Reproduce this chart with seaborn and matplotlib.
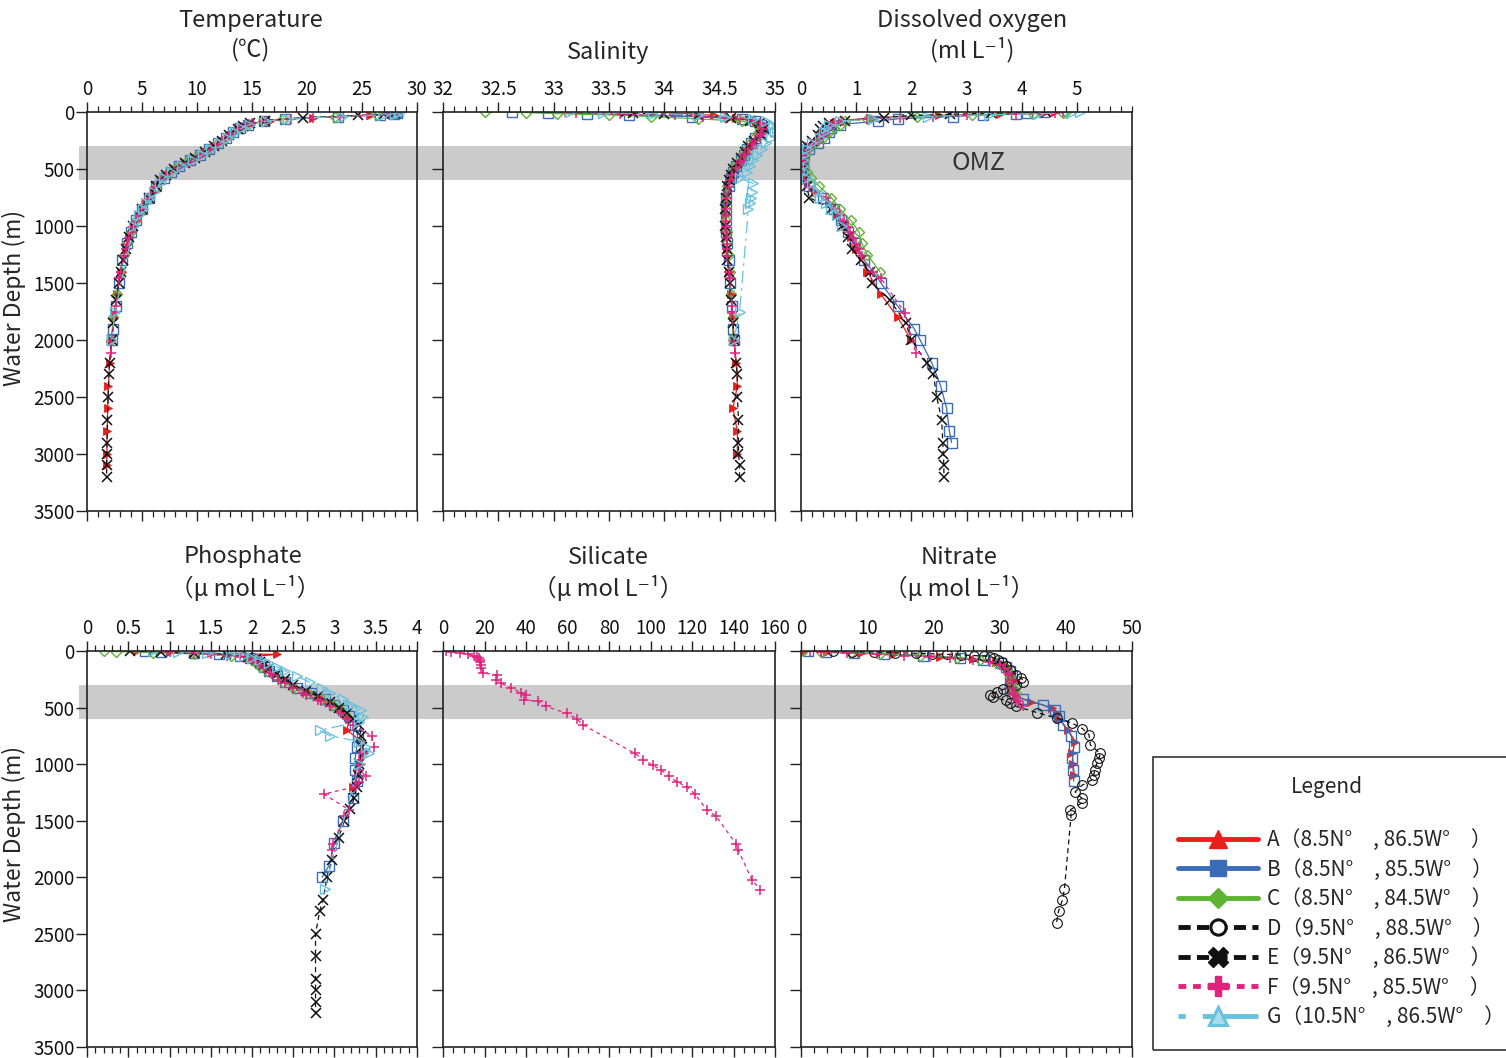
import numpy as np
import pandas as pd
import matplotlib
matplotlib.use("Agg")
import matplotlib.pyplot as plt
from matplotlib.lines import Line2D
from matplotlib.patches import Rectangle
from matplotlib.ticker import MultipleLocator, NullLocator
import seaborn as sns

nan = np.nan

# ---------------- data ----------------
stations = ["A", "B", "C", "D", "E", "F", "G"]
station_labels = ["A（8.5N°　, 86.5W°　）", "B（8.5N°　, 85.5W°　）", "C（8.5N°　, 84.5W°　）",
                  "D（9.5N°　, 88.5W°　）", "E（9.5N°　, 86.5W°　）", "F（9.5N°　, 85.5W°　）",
                  "G（10.5N°　, 86.5W°　）"]

dep_A = [0, 10, 20, 30, 50, 75, 100, 125, 150, 200, 250, 300, 350, 400, 450, 500, 550, 600, 700, 800,
         900, 1000, 1100, 1200, 1400, 1600, 1800, 2000, 2200, 2400, 2600, 2800, 3000, 3100]
temp_A = [28.4, 28.3, 27.6, 25.8, 20.5, 16.6, 15.0, 14.3, 13.8, 13.0, 12.4, 11.6, 10.8, 10.0, 9.0, 8.0, 7.3, 6.7, 6.0, 5.3,
          4.7, 4.2, 3.8, 3.5, 3.05, 2.75, 2.45, 2.25, 2.05, 1.95, 1.88, 1.83, 1.80, 1.80]
sal_A = [33.9, 34.1, 34.3, 34.45, 34.65, 34.78, 34.85, 34.88, 34.88, 34.85, 34.8, 34.77, 34.74, 34.71, 34.68, 34.64, 34.61, 34.59, 34.57, 34.56,
         34.56, 34.56, 34.57, 34.57, 34.58, 34.6, 34.62, 34.63, 34.65, 34.66, 34.62, 34.66, 34.66, nan]
oxy_A = [4.6, 4.4, 3.6, 2.5, 1.3, 0.75, 0.6, 0.55, 0.5, 0.42, 0.3, 0.15, 0.08, 0.05, 0.03, 0.03, 0.04, 0.08, 0.25, 0.5,
         0.65, 0.8, 0.9, 1.0, 1.2, 1.45, 1.75, 2.0, nan, nan, nan, nan, nan, nan]
po4_A = [0.6, 1.0, 1.5, 2.3, 2.0, 2.05, 2.1, 2.15, 2.2, 2.28, 2.4, 2.5, 2.65, 2.8, 2.95, 3.05, 3.12, 3.18, 3.15, 3.33,
         3.35, 3.32, 3.28, 3.22, nan, nan, nan, nan, nan, nan, nan, nan, nan, nan]
no3_A = [0.5, 4.0, 9.0, 14.0, 21.0, 26.0, 29.5, 30.8, 31.3, 31.6, 31.5, 31.4, 31.8, 32.5, 34.8, 37.9, 38.6, 39.0, 40.4, 41.4,
         41.0, 41.1, 41.3, nan, nan, nan, nan, nan, nan, nan, nan, nan, nan, nan]

dep_B = [0, 5, 15, 25, 40, 60, 80, 110, 140, 175, 225, 275, 325, 375, 425, 475, 525, 575, 650, 750,
         850, 950, 1050, 1150, 1300, 1500, 1700, 1900, 2000, 2200, 2400, 2600, 2800, 2900]
temp_B = [28.2, 28.2, 27.9, 26.6, 22.8, 18.0, 16.1, 14.6, 13.9, 13.3, 12.6, 11.9, 11.1, 10.3, 9.4, 8.4, 7.6, 7.0, 6.3, 5.6,
          5.0, 4.45, 4.0, 3.65, 3.2, 2.9, 2.6, 2.35, 2.25, nan, nan, nan, nan, nan]
sal_B = [32.62, 32.95, 33.3, 33.68, 34.25, 34.7, 34.82, 34.87, 34.89, 34.87, 34.82, 34.78, 34.75, 34.72, 34.69, 34.65, 34.62, 34.6, 34.58, 34.56,
         34.56, 34.56, 34.56, 34.57, 34.58, 34.59, 34.61, 34.62, 34.63, nan, nan, nan, nan, nan]
oxy_B = [4.4, 4.1, 3.9, 3.3, 2.75, 1.75, 1.4, 0.7, 0.55, 0.5, 0.42, 0.3, 0.15, 0.06, 0.04, 0.03, 0.04, 0.06, 0.15, 0.4,
         0.6, 0.72, 0.85, 0.98, 1.15, 1.45, 1.75, 2.05, 2.16, 2.37, 2.53, 2.64, 2.69, 2.73]
po4_B = [0.7, 0.9, 1.3, 1.6, 1.85, 1.98, 2.05, 2.1, 2.15, 2.2, 2.3, 2.4, 2.55, 2.72, 2.88, 3.0, 3.1, 3.18, 3.25, 3.28,
         3.27, 3.25, 3.25, 3.27, 3.22, 3.1, 3.0, 2.93, 2.85, nan, nan, nan, nan, nan]
no3_B = [1.0, 3.8, 8.0, 12.5, 18.5, 24.0, 27.5, 30.2, 31.0, 31.5, 31.8, 31.5, 31.6, 31.9, 33.5, 36.5, 38.4, 38.9, 39.6, 40.8,
         41.2, 41.0, 41.1, 41.2, nan, nan, nan, nan, nan, nan, nan, nan, nan, nan]

dep_C = [0, 5, 15, 25, 40, 60, 80, 110, 140, 175, 225, 275, 325, 375, 425, 475, 525, 575, 650, 750,
         850, 950, 1050, 1150, 1250, 1400, 1600, 1800, 2000]
temp_C = [28.1, 28.1, 27.7, 26.4, 22.5, 17.8, 16.0, 14.6, 13.9, 13.3, 12.6, 11.9, 11.1, 10.2, 9.3, 8.3, 7.5, 6.9, 6.3, 5.6,
          5.0, 4.45, 4.0, 3.65, 3.4, 3.05, 2.7, 2.4, 2.2]
sal_C = [32.38, 32.75, 33.03, 33.5, 33.88, 34.3, 34.7, 34.84, 34.87, 34.86, 34.81, 34.77, 34.74, 34.71, 34.68, 34.64, 34.61, 34.59, 34.57, 34.56,
         34.56, 34.56, 34.57, 34.57, 34.58, 34.59, 34.6, 34.62, 34.62]
oxy_C = [4.8, 4.75, 4.2, 3.1, 2.1, 1.2, 0.8, 0.7, 0.6, 0.5, 0.4, 0.25, 0.12, 0.08, 0.06, 0.06, 0.1, 0.18, 0.33, 0.55,
         0.7, 0.9, 1.05, 1.1, 1.2, 1.43, nan, nan, nan]
po4_C = [0.2, 0.35, 0.8, 1.3, 1.75, 1.95, 2.0, 2.05, 2.1, 2.18, 2.28, 2.38, 2.5, 2.68, 2.85, 2.98, 3.08, 3.15, nan, nan,
         nan, nan, nan, nan, nan, nan, nan, nan, nan]
no3_C = [0.3, 3.0, 7.5, 12.0, 18.0, 23.5, 27.0, 29.5, 30.8, 31.2, 31.6, 31.8, 32.0, 32.5, nan, nan, nan, nan, nan, nan,
         nan, nan, nan, nan, nan, nan, nan, nan, nan]

dep_D = [0, 5, 10, 15, 20, 25, 30, 35, 40, 45, 50, 60, 80, 100, 130, 170, 210, 240, 270, 300,
         340, 360, 385, 410, 435, 460, 490, 545, 595, 640, 685, 740, 830, 905, 950, 990, 1050, 1100, 1140, 1185,
         1245, 1300, 1345, 1405, 1450, 2100, 2200, 2300, 2400]
no3_D = [4.9, 7.7, 11.0, 14.2, 17.3, 19.8, 22.1, 24.1, 26.1, 27.6, 28.6, 29.1, 29.8, 30.3, 31.0, 31.5, 32.5, 33.3, 33.6, 32.5,
         30.5, 29.6, 28.6, 29.0, 30.9, 31.5, 32.5, 35.7, 38.7, 41.0, 42.5, 43.5, 43.7, 45.2, 45.0, 44.7, 44.4, 44.2, 43.9, 42.5,
         41.4, 42.4, 42.4, 40.6, 40.8, 39.8, 39.5, 38.9, 38.6]

dep_E = [0, 10, 20, 30, 50, 75, 100, 125, 150, 200, 250, 300, 350, 400, 450, 500, 550, 600, 650, 750,
         850, 1000, 1100, 1200, 1300, 1400, 1500, 1650, 1850, 2000, 2200, 2300, 2500, 2700, 2900, 3000, 3100, 3200]
temp_E = [28.0, 27.9, 27.0, 24.6, 19.6, 16.2, 14.8, 14.2, 13.7, 12.9, 12.3, 11.5, 10.7, 9.8, 8.9, 7.9, 7.2, 6.6, 6.3, 5.6,
          5.0, 4.2, 3.8, 3.5, 3.25, 3.05, 2.88, 2.65, 2.4, 2.24, 2.05, 2.0, 1.92, 1.86, 1.82, 1.8, 1.79, 1.78]
sal_E = [33.65, 33.72, 34.0, 34.3, 34.6, 34.77, 34.86, 34.9, 34.9, 34.87, 34.81, 34.76, 34.73, 34.69, 34.66, 34.62, 34.6, 34.58, 34.57, 34.56,
         34.55, 34.55, 34.56, 34.57, 34.57, 34.58, 34.59, 34.6, 34.62, 34.63, 34.65, 34.66, 34.66, 34.67, 34.67, 34.67, 34.68, 34.68]
oxy_E = [4.45, 3.45, 2.7, 2.0, 1.5, 0.8, 0.5, 0.4, 0.35, 0.3, 0.2, 0.1, 0.05, 0.02, 0.01, 0.01, 0.02, 0.05, 0.1, 0.15,
         0.55, 0.75, 0.85, 0.92, 1.08, 1.25, 1.28, 1.61, 1.9, 2.0, 2.28, 2.4, 2.46, 2.55, 2.57, 2.58, 2.59, 2.59]
po4_E = [0.52, 0.9, 1.3, 1.69, 1.95, 2.05, 2.1, 2.15, 2.2, 2.3, 2.4, 2.5, 2.65, 2.8, 2.95, 3.05, 3.15, 3.22, 3.3, 3.32,
         3.33, 3.3, 3.29, 3.27, 3.24, 3.19, 3.12, 3.05, 2.97, 2.91, 2.86, 2.82, 2.77, 2.77, 2.77, 2.77, 2.77, 2.77]

dep_F = [0, 10, 20, 30, 40, 50, 60, 80, 100, 125, 150, 195, 210, 255, 285, 325, 370, 385, 430, 445,
         490, 550, 600, 655, 750, 850, 905, 960, 1010, 1050, 1105, 1155, 1200, 1265, 1405, 1460, 1705, 1760, 2020, 2110]
temp_F = [28.3, 28.2, 27.5, 25.5, 23.0, 20.5, 18.5, 16.2, 15.0, 14.3, 13.8, 13.1, 12.9, 12.3, 12.0, 11.3, 10.5, 10.3, 9.5, 9.2,
          8.3, 7.2, 6.7, 6.2, 5.6, 5.0, 4.7, 4.45, 4.2, 4.05, 3.85, 3.65, 3.5, 3.35, 3.05, 2.95, 2.6, 2.52, 2.22, 2.15]
sal_F = [33.1, 33.2, 33.6, 34.1, 34.35, 34.55, 34.68, 34.8, 34.86, 34.88, 34.89, 34.87, 34.86, 34.82, 34.79, 34.76, 34.73, 34.72, 34.69, 34.68,
         34.65, 34.61, 34.59, 34.58, 34.57, 34.56, 34.56, 34.56, 34.56, 34.56, 34.57, 34.57, 34.57, 34.57, 34.58, 34.59, 34.61, 34.61, 34.63, 34.64]
oxy_F = [4.75, 4.6, 3.9, 3.0, 2.4, 1.8, 1.2, 0.75, 0.6, 0.55, 0.5, 0.42, 0.4, 0.3, 0.22, 0.12, 0.06, 0.05, 0.03, 0.03,
         0.03, 0.05, 0.08, 0.15, 0.45, 0.62, 0.7, 0.78, 0.85, 0.88, 0.95, 1.0, 1.05, 1.1, 1.3, 1.45, nan, 1.88, nan, 2.08]
po4_F = [0.75, 1.0, 1.3, 1.5, 1.7, 1.85, 1.95, 2.0, 2.05, 2.1, 2.15, 2.22, 2.25, 2.32, 2.4, 2.5, 2.62, 2.66, 2.8, 2.84,
         2.95, 3.08, 3.15, 3.22, 3.45, 3.48, 3.35, 3.3, 3.28, 3.3, 3.38, 3.3, 3.25, 2.87, 3.18, 3.12, 2.98, 2.97, nan, nan]
sil_F = [1.5, 4.0, 8.0, 12.0, 15.0, 16.5, 17.2, 17.8, 18.0, 18.3, 18.5, 19.5, 25.9, 25.6, 28.0, 32.8, 37.6, 40.0, 39.2, 45.6,
         49.6, 59.6, 64.4, 67.6, nan, nan, 92.5, 96.5, 101.0, 104.9, 108.9, 112.6, 117.5, 121.4, 127.1, 131.6, 141.2, 142.3, 148.8, 152.8]
no3_F = [1.4, 3.0, 7.0, 11.5, 15.5, 19.5, 22.5, 26.0, 28.5, 30.0, 30.8, 31.3, 31.4, 31.8, 32.0, 32.0, 32.2, 32.3, 32.5, 32.8,
         33.5, nan, nan, nan, nan, nan, nan, nan, nan, nan, nan, nan, nan, nan, nan, nan, nan, nan, nan, nan]

dep_G = [0, 5, 15, 25, 40, 60, 80, 110, 140, 175, 225, 275, 325, 375, 425, 475, 525, 580, 625, 700,
         750, 800, 850, 900, 1000, 1750, 2000, 2100]
temp_G = [28.5, 28.4, 28.0, 26.9, 23.2, 18.3, 16.3, 14.8, 14.1, 13.5, 12.8, 12.1, 11.3, 10.5, 9.6, 8.6, 7.7, 7.0, 6.6, 6.1,
          5.75, 5.4, 5.05, 4.75, 4.25, 2.55, 2.25, nan]
sal_G = [33.15, 33.45, 33.9, 34.3, 34.55, 34.8, 34.92, 34.98, 35.02, 35.0, 34.96, 34.92, 34.88, 34.84, 34.8, 34.77, 34.75, 34.68, 34.8, 34.79,
         34.78, 34.77, 34.76, nan, nan, 34.68, 34.63, nan]
oxy_G = [5.05, 4.9, 4.3, 3.4, 2.3, 1.3, 0.7, 0.5, 0.45, 0.42, 0.35, 0.2, 0.1, 0.05, 0.04, 0.04, 0.06, 0.1, 0.2, 0.3,
         0.35, 0.45, 0.55, 0.65, 0.75, nan, nan, nan]
po4_G = [0.8, 1.1, 1.45, 1.75, 1.9, 2.0, 2.1, 2.2, 2.3, 2.4, 2.55, 2.7, 2.85, 2.95, 3.1, 3.2, 3.32, 3.35, 3.3, 2.82,
         2.95, 3.3, 3.38, 3.42, 3.3, nan, nan, 2.88]

omz_top, omz_bottom = 300, 600

temp_ticks = [0, 5, 10, 15, 20, 25, 30]
temp_ticklabels = ["0", "5", "10", "15", "20", "25", "30"]
sal_ticks = [32, 32.5, 33, 33.5, 34, 34.5, 35]
sal_ticklabels = ["32", "32.5", "33", "33.5", "34", "34.5", "35"]
oxy_ticks = [0, 1, 2, 3, 4, 5]
oxy_ticklabels = ["0", "1", "2", "3", "4", "5"]
po4_ticks = [0, 0.5, 1, 1.5, 2, 2.5, 3, 3.5, 4]
po4_ticklabels = ["0", "0.5", "1", "1.5", "2", "2.5", "3", "3.5", "4"]
sil_ticks = [0, 20, 40, 60, 80, 100, 120, 140, 160]
sil_ticklabels = ["0", "20", "40", "60", "80", "100", "120", "140", "160"]
no3_ticks = [0, 10, 20, 30, 40, 50]
no3_ticklabels = ["0", "10", "20", "30", "40", "50"]
depth_ticks = [0, 500, 1000, 1500, 2000, 2500, 3000, 3500]
depth_ticklabels = ["0", "500", "1000", "1500", "2000", "2500", "3000", "3500"]

# ---------------- long table ----------------
station_data = {
    "A": dict(depth=dep_A, temp=temp_A, sal=sal_A, oxy=oxy_A, po4=po4_A, no3=no3_A),
    "B": dict(depth=dep_B, temp=temp_B, sal=sal_B, oxy=oxy_B, po4=po4_B, no3=no3_B),
    "C": dict(depth=dep_C, temp=temp_C, sal=sal_C, oxy=oxy_C, po4=po4_C, no3=no3_C),
    "D": dict(depth=dep_D, no3=no3_D),
    "E": dict(depth=dep_E, temp=temp_E, sal=sal_E, oxy=oxy_E, po4=po4_E),
    "F": dict(depth=dep_F, temp=temp_F, sal=sal_F, oxy=oxy_F, po4=po4_F, sil=sil_F, no3=no3_F),
    "G": dict(depth=dep_G, temp=temp_G, sal=sal_G, oxy=oxy_G, po4=po4_G),
}
frames = []
for s in stations:
    d = pd.DataFrame(station_data[s])
    d["station"] = s
    frames.append(d)
df = pd.concat(frames, ignore_index=True)

# ---------------- style ----------------
sns.set_theme(style="white")
plt.rcParams["font.family"] = ["Noto Sans CJK JP", "DejaVu Sans"]
plt.rcParams["axes.unicode_minus"] = False

RED, BLUE, GREEN, BLK, MAG, LBLUE = "#e8201c", "#3b6cb7", "#5db332", "#111111", "#e0237e", "#69c2dc"
styles = {
    "A": dict(color=RED, linestyle="-", marker=">", markersize=5.5, markerfacecolor=RED, markeredgecolor=RED, markeredgewidth=0.6),
    "B": dict(color=BLUE, linestyle="-", marker="s", markersize=6.5, markerfacecolor="none", markeredgecolor=BLUE, markeredgewidth=1.0),
    "C": dict(color=GREEN, linestyle="-", marker="D", markersize=5, markerfacecolor="none", markeredgecolor=GREEN, markeredgewidth=1.0),
    "D": dict(color=BLK, linestyle=(0, (4, 3)), marker="o", markersize=7, markerfacecolor="none", markeredgecolor=BLK, markeredgewidth=0.8),
    "E": dict(color=BLK, linestyle=(0, (4, 3)), marker="x", markersize=6.5, markerfacecolor="none", markeredgecolor=BLK, markeredgewidth=1.1),
    "F": dict(color=MAG, linestyle=(0, (3, 3)), marker="+", markersize=7.5, markerfacecolor="none", markeredgecolor=MAG, markeredgewidth=1.1),
    "G": dict(color=LBLUE, linestyle=(0, (10, 4, 2, 4)), marker=">", markersize=6.5, markerfacecolor="none", markeredgecolor=LBLUE, markeredgewidth=1.0),
}

W, H = 1506, 1058
fig = plt.figure(figsize=(W / 100, H / 100), dpi=100)
fig.patch.set_facecolor("white")

col_px = [(87, 417), (443, 775), (801, 1132)]
row_px = [(112, 511), (651, 1047)]

panels = [
    ("temp", 0, 0, (0, 30), temp_ticks, temp_ticklabels, 1),
    ("sal", 0, 1, (32, 35), sal_ticks, sal_ticklabels, 0.1),
    ("oxy", 0, 2, (0, 6), oxy_ticks, oxy_ticklabels, 0.2),
    ("po4", 1, 0, (0, 4), po4_ticks, po4_ticklabels, 0.1),
    ("sil", 1, 1, (0, 160), sil_ticks, sil_ticklabels, 5),
    ("no3", 1, 2, (0, 50), no3_ticks, no3_ticklabels, 2),
]

tick_fs = 13.5
axes = {}
for var, r, c, xlim, xt, xtl, minor in panels:
    l, rr = col_px[c]
    t, b = row_px[r]
    ax = fig.add_axes([l / W, 1 - b / H, (rr - l) / W, (b - t) / H])
    ax.set_facecolor("none")
    axes[var] = ax
    # OMZ band spanning the gap to the next panel
    xmin = -0.025 if c == 0 else 0.0
    xmax = 1.08 if c < 2 else 1.003
    ax.axhspan(omz_top, omz_bottom, xmin=xmin, xmax=xmax, color="#cbcbcb", lw=0, zorder=0, clip_on=False)
    for s in stations:
        if var not in df.columns:
            continue
        sub = df.loc[df["station"] == s, ["depth", var]].dropna()
        if sub.empty:
            continue
        sns.lineplot(data=sub, x=var, y="depth", orient="y", sort=True, estimator=None,
                     ax=ax, linewidth=0.9, legend=False, zorder=2, **styles[s])
    ax.set_xlim(*xlim)
    ax.set_ylim(3500, 0)
    ax.set_xlabel("")
    ax.set_ylabel("")
    ax.set_xticks(xt)
    ax.set_xticklabels(xtl)
    ax.xaxis.set_minor_locator(MultipleLocator(minor))
    ax.set_yticks(depth_ticks)
    ax.set_yticklabels(depth_ticklabels if c == 0 else [""] * len(depth_ticks))
    ax.yaxis.set_minor_locator(NullLocator())
    ax.tick_params(axis="x", which="both", top=True, bottom=True, labeltop=True, labelbottom=False,
                   direction="out", color="#222222")
    ax.tick_params(axis="x", which="major", length=7, width=1.0, labelsize=tick_fs, pad=2, labelcolor="#111111")
    ax.tick_params(axis="x", which="minor", length=4, width=0.9)
    ax.tick_params(axis="y", which="major", left=True, right=False, direction="out", length=8, width=1.0,
                   labelsize=tick_fs, pad=1, color="#222222", labelcolor="#111111")
    for sp in ax.spines.values():
        sp.set_color("#222222")
        sp.set_linewidth(1.2)
        sp.set_visible(True)

axes["oxy"].text(3.22, 445, "OMZ", fontsize=18, color="#333333", ha="center", va="center", zorder=3)

# ---------------- titles ----------------
def ftext(px, py, s, **kw):
    fig.text(px / W, 1 - py / H, s, ha="center", va="center", **kw)

tsize = 17
ftext(251, 20, "Temperature", fontsize=tsize)
ftext(251, 50, "(℃)", fontsize=tsize)
ftext(608, 52, "Salinity", fontsize=tsize)
ftext(972, 20, "Dissolved oxygen", fontsize=tsize)
ftext(972, 50, "(ml L⁻¹)", fontsize=tsize)
ftext(243, 557, "Phosphate", fontsize=tsize)
ftext(245, 588, "（μ mol L⁻¹）", fontsize=tsize)
ftext(608, 557, "Silicate", fontsize=tsize)
ftext(608, 588, "（μ mol L⁻¹）", fontsize=tsize)
ftext(959, 557, "Nitrate", fontsize=tsize)
ftext(959, 588, "（μ mol L⁻¹）", fontsize=tsize)
fig.text(14 / W, 1 - 298 / H, "Water Depth (m)", rotation=90, ha="center", va="center", fontsize=16.5)
fig.text(14 / W, 1 - 834 / H, "Water Depth (m)", rotation=90, ha="center", va="center", fontsize=16.5)

# ---------------- legend ----------------
lw_leg = 3.5
handles = [
    Line2D([], [], color=RED, lw=lw_leg, marker="^", markersize=13, markerfacecolor=RED, markeredgecolor=RED),
    Line2D([], [], color=BLUE, lw=lw_leg, marker="s", markersize=11, markerfacecolor=BLUE, markeredgecolor=BLUE),
    Line2D([], [], color=GREEN, lw=lw_leg, marker="D", markersize=10, markerfacecolor=GREEN, markeredgecolor=GREEN),
    Line2D([], [], color=BLK, lw=lw_leg, linestyle=(0, (2.5, 1.3)), marker="o", markersize=11,
           markerfacecolor="white", markeredgecolor=BLK, markeredgewidth=2.2),
    Line2D([], [], color=BLK, lw=lw_leg, linestyle=(0, (2.5, 1.3)), marker="X", markersize=14,
           markerfacecolor=BLK, markeredgecolor=BLK),
    Line2D([], [], color=MAG, lw=lw_leg, linestyle=(0, (1.6, 1.4)), marker="P", markersize=14,
           markerfacecolor=MAG, markeredgecolor=MAG),
    Line2D([], [], color=LBLUE, lw=lw_leg, linestyle=(0, (1.5, 3.5, 30, 1)), marker="^", markersize=13,
           markerfacecolor="#a9dced", markeredgecolor=LBLUE, markeredgewidth=2.2),
]
fig.legend(handles, station_labels, loc="upper left", bbox_to_anchor=(1178 / W, 1 - 829 / H),
           frameon=False, fontsize=15, handlelength=3.85, handletextpad=0.4, labelspacing=0.36,
           borderpad=0, borderaxespad=0)
fig.add_artist(Rectangle((1153 / W, 1 - 1050 / H), 0.5, (1050 - 757) / H, transform=fig.transFigure,
                         facecolor="none", edgecolor="#333333", lw=1.2))
ftext(1327, 787, "Legend", fontsize=15)

fig.savefig("out.png", dpi=100)
